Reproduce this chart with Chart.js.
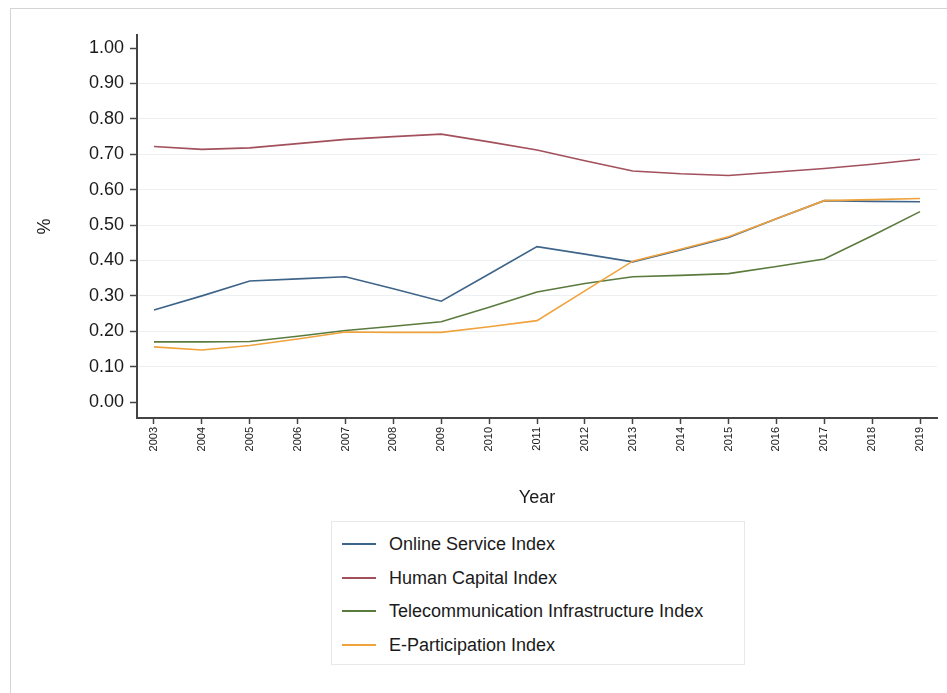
<!DOCTYPE html>
<html>
<head>
<meta charset="utf-8">
<script src="https://cdn.jsdelivr.net/npm/chart.js@4"></script>
<style>
    body { margin: 0; background: #fff; font-family: 'Liberation Sans', Arial, sans-serif; }
    .frame { position: absolute; left: 10px; top: 8px; width: 960px; height: 720px; border: 1px solid #d4d4d4; }
    .wrap { position: absolute; left: 0; top: 0; width: 947px; height: 693px; }
    .legend { position: absolute; left: 331px; top: 521px; width: 412px; height: 142px; border: 1px solid #e8e8e8; background: #fff; }
    .legend div { position: absolute; left: 57px; font-size: 18px; color: #1a1a1a; line-height: 20px; white-space: nowrap; }
    .legend span { position: absolute; left: -47px; top: 9px; width: 34px; height: 2px; }
</style>
</head>
<body>
<div class="frame"></div>
<div class="wrap"><canvas id="myChart" width="947" height="693"></canvas></div>
<div class="legend" id="legend"></div>
<script>
// survey years and index values
let years = [2003, 2004, 2005, 2006, 2007, 2008, 2009, 2010, 2011, 2012, 2013, 2014, 2015, 2016, 2017, 2018, 2019];
let onlineService = [0.260, 0.300, 0.342, 0.348, 0.354, 0.320, 0.285, 0.362, 0.439, 0.418, 0.396, 0.430, 0.465, 0.518, 0.569, 0.567, 0.566];
let humanCapital = [0.722, 0.714, 0.718, 0.730, 0.742, 0.750, 0.757, 0.735, 0.712, 0.682, 0.653, 0.645, 0.640, 0.650, 0.660, 0.672, 0.686];
let telecom = [0.170, 0.170, 0.171, 0.186, 0.202, 0.214, 0.227, 0.268, 0.311, 0.335, 0.354, 0.358, 0.363, 0.383, 0.404, 0.470, 0.538];
let eParticipation = [0.156, 0.147, 0.160, 0.178, 0.198, 0.197, 0.197, 0.213, 0.230, 0.314, 0.398, 0.432, 0.467, 0.518, 0.569, 0.572, 0.575];
let yTicks = [0, 0.1, 0.2, 0.3, 0.4, 0.5, 0.6, 0.7, 0.8, 0.9, 1.0];

let names = ['Online Service Index', 'Human Capital Index', 'Telecommunication Infrastructure Index', 'E-Participation Index'];
let colors = ['#3f6489', '#a2505c', '#5b7b3e', '#f0a23c'];
let series = [onlineService, humanCapital, telecom, eParticipation];

function points(values) {
    return values.map((v, i) => ({ x: years[i], y: v }));
}

var ctx = document.getElementById('myChart').getContext('2d');
var myChart = new Chart(ctx, {
    type: 'line',
    data: {
        datasets: series.map((s, i) => ({
            label: names[i],
            data: points(s),
            borderColor: colors[i],
            borderWidth: 1.6,
            pointRadius: 0,
            tension: 0,
            order: i === 3 ? 0 : i + 1
        }))
    },
    options: {
        responsive: false,
        animation: false,
        layout: { padding: { left: 34, top: 35, right: 10, bottom: 184 } },
        plugins: { legend: { display: false }, tooltip: { enabled: false } },
        scales: {
            x: {
                type: 'linear',
                min: 2002.645,
                max: 2019.355,
                afterBuildTicks: function (scale) {
                    scale.ticks = years.map(v => ({ value: v }));
                },
                afterFit: function (scale) { scale.height = 91; },
                ticks: {
                    autoSkip: false,
                    minRotation: 90,
                    maxRotation: 90,
                    padding: 3,
                    color: '#1a1a1a',
                    font: { family: "'Liberation Sans', Arial", size: 11 },
                    callback: v => String(v)
                },
                grid: { drawOnChartArea: false, tickLength: 6, tickColor: '#444', tickWidth: 1.5 },
                border: { color: '#444', width: 2 },
                title: {
                    display: true,
                    text: 'Year',
                    color: '#1a1a1a',
                    padding: 0,
                    font: { family: "'Liberation Sans', Arial", size: 18, lineHeight: 1.2 }
                }
            },
            y: {
                min: -0.045,
                max: 1.037,
                afterBuildTicks: function (scale) {
                    scale.ticks = yTicks.map(v => ({ value: v }));
                },
                afterFit: function (scale) { scale.width = 103; },
                ticks: {
                    padding: 6,
                    color: '#1a1a1a',
                    font: { family: "'Liberation Sans', Arial", size: 18 },
                    callback: v => v.toFixed(2)
                },
                grid: {
                    color: c => (c.tick && (c.tick.value <= 0 || c.tick.value >= 1)) ? 'rgba(0,0,0,0)' : '#edf0f3',
                    tickLength: 7,
                    tickColor: '#444',
                    tickWidth: 1.5
                },
                border: { color: '#444', width: 2 },
                title: {
                    display: true,
                    text: '%',
                    color: '#1a1a1a',
                    padding: 0,
                    font: { family: "'Liberation Sans', Arial", size: 18, lineHeight: 1.2 }
                }
            }
        }
    }
});

let legend = document.getElementById('legend');
names.forEach((n, i) => {
    let row = document.createElement('div');
    row.style.top = (12 + i * 33.5) + 'px';
    row.innerHTML = '<span style="background:' + colors[i] + '"></span>' + n;
    legend.appendChild(row);
});
</script>
</body>
</html>
